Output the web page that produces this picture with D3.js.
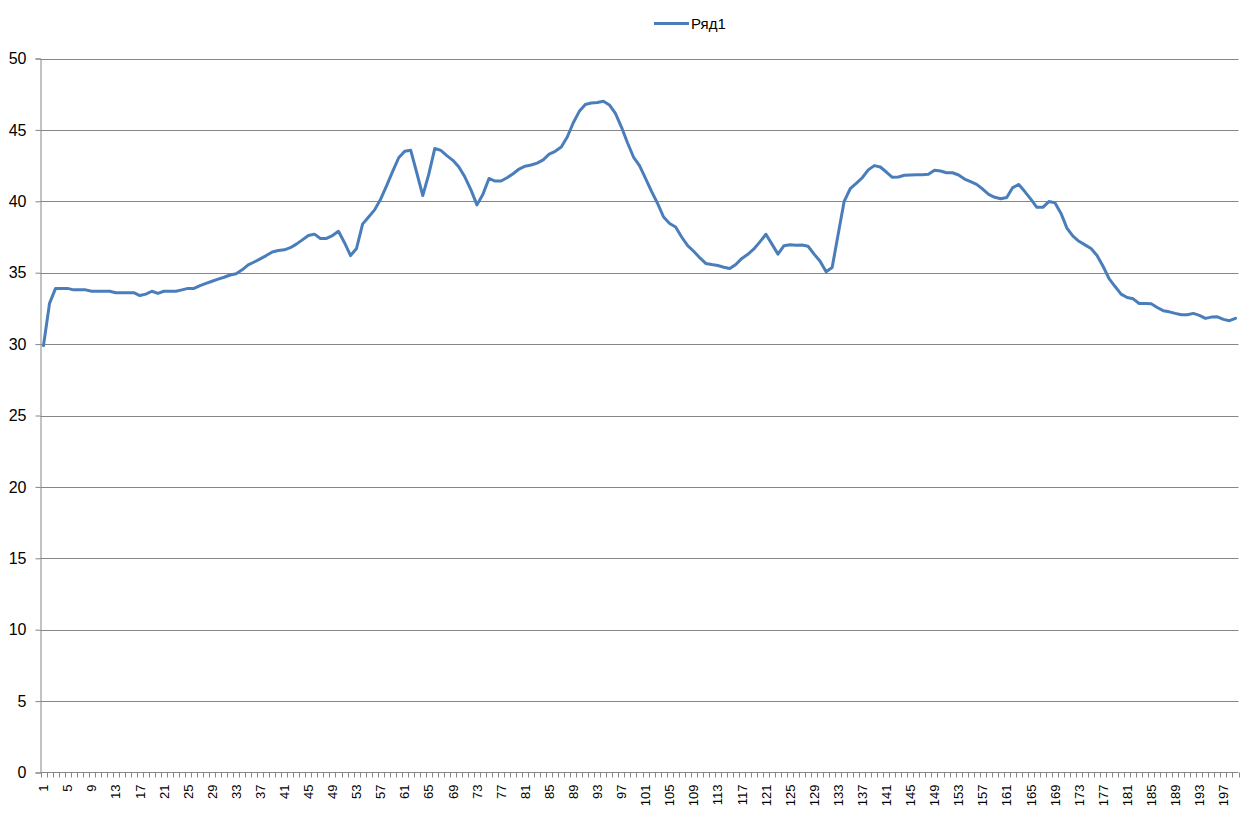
<!DOCTYPE html>
<html>
<head>
<meta charset="utf-8">
<script src="https://cdn.jsdelivr.net/npm/d3@7"></script>
<style>
  html, body { margin: 0; padding: 0; background: #fff; }
  svg { display: block; font-family: "Liberation Sans", Arial, sans-serif; }
</style>
</head>
<body>
<svg id="chart" width="1249" height="819"></svg>
<script>
const seriesName = "Ряд1";
const values = [
  29.9, 32.85, 33.9, 33.9, 33.9, 33.8, 33.8, 33.8, 33.7, 33.7,
  33.7, 33.7, 33.6, 33.6, 33.6, 33.6, 33.4, 33.5, 33.7, 33.55,
  33.7, 33.7, 33.7, 33.8, 33.9, 33.9, 34.1, 34.25, 34.4, 34.55,
  34.68, 34.84, 34.93, 35.2, 35.55, 35.75, 35.97, 36.2, 36.45, 36.55,
  36.6, 36.75, 37.0, 37.3, 37.6, 37.7, 37.4, 37.4, 37.6, 37.9,
  37.1, 36.2, 36.7, 38.4, 38.9, 39.4, 40.15, 41.1, 42.1, 43.05,
  43.5, 43.57, 42.0, 40.4, 41.9, 43.7, 43.57, 43.2, 42.87, 42.4,
  41.7, 40.8, 39.75, 40.5, 41.6, 41.42, 41.42, 41.65, 41.93, 42.26,
  42.46, 42.54, 42.67, 42.9, 43.3, 43.5, 43.8, 44.5, 45.5, 46.3,
  46.78, 46.88, 46.92, 47.01, 46.75, 46.15, 45.2, 44.1, 43.1, 42.5,
  41.6, 40.7, 39.85, 38.9, 38.45, 38.2, 37.5, 36.9, 36.5, 36.05,
  35.65, 35.57, 35.5, 35.38, 35.29, 35.57, 36.0, 36.29, 36.66, 37.16,
  37.69, 37.0, 36.3, 36.89, 36.96, 36.92, 36.94, 36.85, 36.3, 35.8,
  35.06, 35.36, 37.7, 40.0, 40.88, 41.25, 41.65, 42.2, 42.5, 42.4,
  42.05, 41.68, 41.7, 41.82, 41.84, 41.86, 41.86, 41.89, 42.17, 42.12,
  42.0, 42.0, 41.84, 41.56, 41.37, 41.19, 40.86, 40.49, 40.28, 40.18,
  40.27, 40.96, 41.18, 40.68, 40.15, 39.58, 39.58, 39.98, 39.9, 39.17,
  38.12, 37.56, 37.2, 36.95, 36.7, 36.2, 35.45, 34.59, 34.03, 33.5,
  33.26, 33.17, 32.84, 32.84, 32.82, 32.56, 32.34, 32.26, 32.15, 32.05,
  32.05, 32.15, 32.01, 31.8, 31.89, 31.91, 31.73, 31.64, 31.8
];
const categories = values.map((_, i) => String(i + 1));
const xTickLabels = categories.filter((_, i) => i % 4 === 0);
const yTicks = [0, 5, 10, 15, 20, 25, 30, 35, 40, 45, 50];

const svg = d3.select("#chart");
const plotLeft = 40.5, plotRight = 1238.5, plotTop = 58.5, plotBottom = 772.5;
const gridColor = "#868686";
const lineColor = "#4A7EBB";

const x = d3.scaleBand().domain(categories).range([plotLeft, plotRight]).paddingInner(0).paddingOuter(0);
const y = d3.scaleLinear().domain([0, 50]).range([plotBottom, plotTop]);

// gridlines
svg.append("g")
  .selectAll("line")
  .data(yTicks.filter(t => t > 0))
  .join("line")
  .attr("x1", plotLeft).attr("x2", plotRight)
  .attr("y1", d => Math.round(y(d)) + 0.5).attr("y2", d => Math.round(y(d)) + 0.5)
  .attr("stroke", gridColor).attr("stroke-width", 1);

// y axis
const yAxis = d3.axisLeft(y).tickValues(yTicks).tickSize(5).tickPadding(9);
const gy = svg.append("g").attr("transform", `translate(${plotLeft},0)`).call(yAxis);
gy.select(".domain").attr("stroke", gridColor);
gy.selectAll(".tick line").attr("stroke", gridColor);
gy.selectAll(".tick text").attr("font-size", 16).attr("fill", "#000")
  .attr("font-family", "Liberation Sans, Arial, sans-serif");

// x axis: ticks at category boundaries
const gx = svg.append("g").attr("transform", `translate(0,${plotBottom})`);
const boundaries = d3.range(categories.length + 1).map(i => plotLeft + i * x.bandwidth());
gx.append("line").attr("x1", plotLeft).attr("x2", plotRight).attr("y1", 0).attr("y2", 0)
  .attr("stroke", gridColor);
gx.selectAll("line.tk").data(boundaries).join("line").attr("class", "tk")
  .attr("x1", d => Math.round(d) + 0.5).attr("x2", d => Math.round(d) + 0.5)
  .attr("y1", 0).attr("y2", 5).attr("stroke", gridColor);
gx.selectAll("text").data(xTickLabels).join("text")
  .attr("transform", d => `translate(${x(d) + x.bandwidth() / 2 + 4.7},${12}) rotate(-90)`)
  .attr("text-anchor", "end")
  .attr("font-size", 13)
  .attr("fill", "#000")
  .text(d => d);

// line
const line = d3.line()
  .x((d, i) => x(categories[i]) + x.bandwidth() / 2)
  .y(d => y(d));
svg.append("path").datum(values)
  .attr("d", line)
  .attr("fill", "none")
  .attr("stroke", lineColor)
  .attr("stroke-width", 3)
  .attr("stroke-linejoin", "round")
  .attr("stroke-linecap", "round");

// legend
const lg = svg.append("g").attr("transform", "translate(654,23.5)");
lg.append("line").attr("x1", 0).attr("x2", 35).attr("y1", 0).attr("y2", 0)
  .attr("stroke", lineColor).attr("stroke-width", 3);
lg.append("text").attr("x", 37).attr("y", 0).attr("dy", "0.35em")
  .attr("font-size", 15).attr("fill", "#000").text(seriesName);
</script>
</body>
</html>
